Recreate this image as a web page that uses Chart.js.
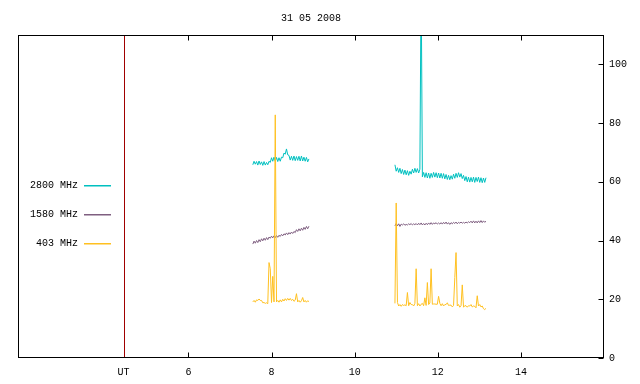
<!DOCTYPE html>
<html><head><meta charset="utf-8">
<script src="https://cdn.jsdelivr.net/npm/chart.js@4"></script>
<style>html,body{margin:0;padding:0;background:#fff}#wrap{width:640px;height:384px}</style>
</head><body><div id="wrap"><canvas id="c" width="640" height="384"></canvas></div>
<script>
const chartTitle = '31 05 2008';
const seriesLabels = ['2800 MHz', '1580 MHz', '403 MHz'];
const seriesColors = ['#00c0c0', '#7f5f80', '#ffc020'];

// UT hours, first and second observing blocks
const timesA = [7.55,7.58,7.61,7.64,7.67,7.70,7.73,7.76,7.79,7.82,
  7.85,7.88,7.91,7.94,7.97,8.00,8.03,8.06,8.09,8.12,
  8.15,8.18,8.21,8.24,8.27,8.30,8.33,8.36,8.39,8.42,
  8.45,8.48,8.51,8.54,8.57,8.60,8.63,8.66,8.69,8.72,
  8.75,8.78,8.81,8.84,8.87,8.90];
const timesB = [10.97,11.00,11.03,11.06,11.09,11.12,11.15,11.18,11.21,11.24,
  11.27,11.30,11.33,11.36,11.39,11.42,11.45,11.48,11.51,11.54,
  11.57,11.60,11.63,11.66,11.69,11.72,11.75,11.78,11.81,11.84,
  11.87,11.90,11.93,11.96,11.99,12.02,12.05,12.08,12.11,12.14,
  12.17,12.20,12.23,12.26,12.29,12.32,12.35,12.38,12.41,12.44,
  12.47,12.50,12.53,12.56,12.59,12.62,12.65,12.68,12.71,12.74,
  12.77,12.80,12.83,12.86,12.89,12.92,12.95,12.98,13.01,13.04,
  13.07,13.10,13.13,13.16];

const mhz2800A = [65.8,67.0,66.0,66.9,65.7,67.1,65.9,66.8,65.6,66.9,
  65.7,66.6,65.8,67.0,66.6,68.2,67.0,68.4,67.0,68.3,
  66.9,68.2,67.0,68.4,68.2,69.8,69.4,71.2,69.2,69.0,
  67.4,68.7,67.3,68.8,67.2,68.6,67.3,68.7,67.1,68.8,
  67.1,68.4,67.0,68.3,66.8,67.8];
const mhz2800B = [65.8,63.6,64.8,63.2,64.6,62.8,64.2,62.5,64.0,62.4,
  63.8,62.2,63.6,62.6,64.3,63.0,64.6,63.2,64.5,63.0,
  64.3,130,61.7,63.2,61.5,63.1,61.3,63.0,61.2,62.9,
  61.5,63.2,61.6,63.1,61.4,63.0,61.3,62.9,61.2,62.8,
  61.0,62.5,60.8,62.2,60.7,62.1,60.9,62.6,61.2,62.9,
  61.5,63.1,61.6,62.8,61.1,62.2,60.4,61.8,60.0,61.6,
  59.9,61.5,60.0,61.6,59.8,61.5,60.1,61.6,59.8,61.4,
  59.7,61.3,59.8,61.4];

const mhz1580A = [38.8,39.8,39.1,40.0,39.3,40.3,39.6,40.6,39.9,40.8,
  40.1,41.0,40.3,41.2,40.8,41.5,40.9,41.6,41.0,41.7,
  41.1,41.8,41.4,42.1,41.6,42.3,41.9,42.6,42.0,42.7,
  42.2,42.9,42.4,43.1,42.7,43.7,43.1,44.0,43.3,44.2,
  43.5,44.5,43.8,44.8,44.0,44.9];
const mhz1580B = [45.0,45.8,45.0,45.7,44.8,45.6,45.3,45.7,45.2,45.5,
  45.3,45.7,45.4,45.8,45.3,45.7,45.4,45.8,45.3,45.9,
  45.4,46.0,45.3,45.8,45.3,45.9,45.4,46.0,45.5,46.1,
  45.5,46.0,45.7,46.1,45.6,46.0,45.6,46.1,45.6,46.2,
  45.7,46.3,45.6,46.1,45.5,46.1,45.7,46.2,45.8,46.3,
  45.7,46.2,45.9,46.3,45.9,46.2,45.9,46.3,46.0,46.4,
  46.1,46.6,46.0,46.7,46.0,46.6,46.0,46.7,46.1,46.8,
  46.1,46.7,46.2,46.6];

const mhz403A = [19.1,19.6,19.0,19.8,19.6,20.1,19.6,19.6,18.8,18.9,
  18.6,18.8,18.5,32.5,30.4,18.9,27.8,19.1,82.8,19.1,
  19.6,19.0,19.8,19.1,20.0,19.4,20.2,19.6,20.3,19.7,
  20.3,19.6,20.0,19.3,19.7,21.9,19.1,19.6,19.0,19.5,
  20.6,19.1,19.6,19.0,19.5,19.2];
const mhz403B = [18.6,52.8,18.9,17.7,18.2,17.6,18.2,17.9,18.1,17.8,
  22.3,17.8,18.9,18.2,18.2,17.7,18.6,30.4,17.8,18.5,
  17.7,18.3,18.6,17.8,20.5,17.9,25.7,18.2,18.7,30.4,
  18.3,18.4,18.4,18.3,18.3,21.0,18.6,17.8,18.5,17.7,
  18.2,18.2,18.8,17.9,18.0,18.0,17.4,17.9,27.4,35.9,
  17.7,18.2,17.3,17.8,24.9,17.3,17.8,17.8,17.3,17.8,
  17.7,18.2,17.4,17.7,17.6,17.1,21.2,17.7,18.2,17.4,
  17.7,16.8,16.5,16.9];

const xTickValues = [4.44, 6, 8, 10, 12, 14];
const xTickLabels = ['UT', '6', '8', '10', '12', '14'];
const yTickValues = [0, 20, 40, 60, 80, 100];
const utMarker = 4.44;

const FONT = "'Liberation Mono', 'DejaVu Sans Mono', monospace";

function buildSeries(a, b) {
  const pts = timesA.map((t, i) => ({x: t, y: a[i]}));
  pts.push({x: (timesA[timesA.length - 1] + timesB[0]) / 2, y: null});
  timesB.forEach((t, i) => pts.push({x: t, y: b[i]}));
  return pts;
}
const seriesData = [buildSeries(mhz2800A, mhz2800B), buildSeries(mhz1580A, mhz1580B), buildSeries(mhz403A, mhz403B)];

const framePlugin = {
  id: 'frame',
  beforeDatasetsDraw(chart) {
    const ctx = chart.ctx, ca = chart.chartArea, xs = chart.scales.x;
    const x = Math.round(xs.getPixelForValue(utMarker)) + 0.5;
    ctx.save();
    ctx.strokeStyle = '#a00000'; ctx.lineWidth = 1;
    ctx.beginPath(); ctx.moveTo(x, ca.top); ctx.lineTo(x, ca.bottom); ctx.stroke();
    ctx.restore();
  },
  afterDraw(chart) {
    const ctx = chart.ctx, ca = chart.chartArea, xs = chart.scales.x, ys = chart.scales.y;
    const L = Math.round(ca.left) + 0.5, R = Math.round(ca.right) - 0.5;
    const T = Math.round(ca.top) + 0.5, B = Math.round(ca.bottom) - 0.5;
    ctx.save();
    ctx.strokeStyle = '#000'; ctx.lineWidth = 1;
    ctx.strokeRect(L, T, R - L, B - T);
    ctx.beginPath();
    xTickValues.forEach((v, i) => {
      if (xTickLabels[i] === 'UT') return;
      const px = Math.round(xs.getPixelForValue(v)) + 0.5;
      ctx.moveTo(px, B); ctx.lineTo(px, B - 5);
      ctx.moveTo(px, T); ctx.lineTo(px, T + 5);
    });
    yTickValues.forEach(v => {
      const py = Math.round(ys.getPixelForValue(v)) + 0.5;
      ctx.moveTo(R, py); ctx.lineTo(R - 5, py);
    });
    ctx.stroke();
    // title
    ctx.fillStyle = '#000';
    ctx.font = '10px ' + FONT;
    ctx.textAlign = 'center'; ctx.textBaseline = 'middle';
    ctx.fillText(chartTitle, (ca.left + ca.right) / 2, 18);
    // legend
    ctx.textAlign = 'right';
    seriesLabels.forEach((lab, i) => {
      const y = 185 + i * 29;
      ctx.fillStyle = '#000';
      ctx.fillText(lab, 78, y);
      ctx.fillStyle = seriesColors[i];
      ctx.fillRect(84, y, 27, 1.5);
    });
    ctx.restore();
  }
};

new Chart(document.getElementById('c'), {
  type: 'line',
  data: {
    datasets: seriesLabels.map((lab, i) => ({
      label: lab,
      data: seriesData[i],
      borderColor: seriesColors[i],
      backgroundColor: seriesColors[i],
      borderWidth: 1,
      pointRadius: 0,
      tension: 0,
      spanGaps: false,
      order: 3 - i,
      clip: 0
    }))
  },
  options: {
    responsive: false,
    animation: false,
    devicePixelRatio: 1,
    layout: {padding: {left: 18, right: 0, top: 35, bottom: 0}},
    plugins: {legend: {display: false}, title: {display: false}, tooltip: {enabled: false}},
    scales: {
      x: {
        type: 'linear', position: 'bottom', min: 1.9, max: 16,
        grid: {display: false, drawTicks: false}, border: {display: false},
        afterBuildTicks(s) { s.ticks = xTickValues.map(v => ({value: v})); },
        afterFit(s) { s.height = 26; },
        ticks: {
          autoSkip: false, maxRotation: 0, padding: 8, color: '#000',
          font: {family: FONT, size: 10},
          callback(v) { const i = xTickValues.indexOf(v); return i >= 0 ? xTickLabels[i] : ''; }
        }
      },
      y: {
        type: 'linear', position: 'right', min: 0, max: 110,
        grid: {display: false, drawTicks: false}, border: {display: false},
        afterBuildTicks(s) { s.ticks = yTickValues.map(v => ({value: v})); },
        afterFit(s) { s.width = 36; },
        ticks: {padding: 5, color: '#000', font: {family: FONT, size: 10}}
      }
    }
  },
  plugins: [framePlugin]
});
</script>
</body></html>
